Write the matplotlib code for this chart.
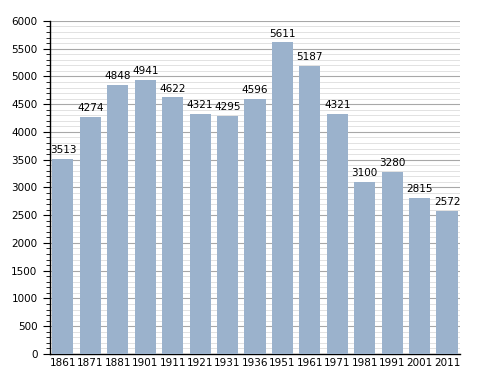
import numpy as np
import matplotlib.pyplot as plt
from matplotlib.ticker import MultipleLocator

years = ["1861", "1871", "1881", "1901", "1911", "1921", "1931", "1936",
         "1951", "1961", "1971", "1981", "1991", "2001", "2011"]
population = [3513, 4274, 4848, 4941, 4622, 4321, 4295, 4596,
              5611, 5187, 4321, 3100, 3280, 2815, 2572]

fig = plt.figure(figsize=(4.88, 3.73), dpi=100)
ax = fig.add_axes([0.1025, 0.051, 0.84, 0.893])

x = np.arange(len(years))
ax.bar(x, population, width=0.77, color="#9bb2cc", zorder=3)

# value labels above each bar
for xi, v in zip(x, population):
    ax.text(xi, v + 70, str(v), ha="center", va="bottom", fontsize=7.5, zorder=4)

ax.set_xlim(-0.47, len(years) - 0.53)
ax.set_ylim(0, 6000)
ax.set_xticks(x)
ax.set_xticklabels(years, fontsize=7.5)
ax.yaxis.set_major_locator(MultipleLocator(500))
ax.yaxis.set_minor_locator(MultipleLocator(100))
ax.tick_params(axis="y", labelsize=7.5, length=5, width=0.8, pad=4)
ax.tick_params(axis="y", which="minor", length=3, width=0.6)
ax.tick_params(axis="x", length=0, pad=3)

ax.grid(axis="y", which="major", color="#a8a8a8", linewidth=0.8, zorder=0)
ax.grid(axis="y", which="minor", color="#dddddd", linewidth=0.6, zorder=0)

for s in ["top", "right"]:
    ax.spines[s].set_visible(False)
ax.spines["left"].set_linewidth(1.0)
ax.spines["bottom"].set_linewidth(1.0)

fig.savefig("out.png", dpi=100)
